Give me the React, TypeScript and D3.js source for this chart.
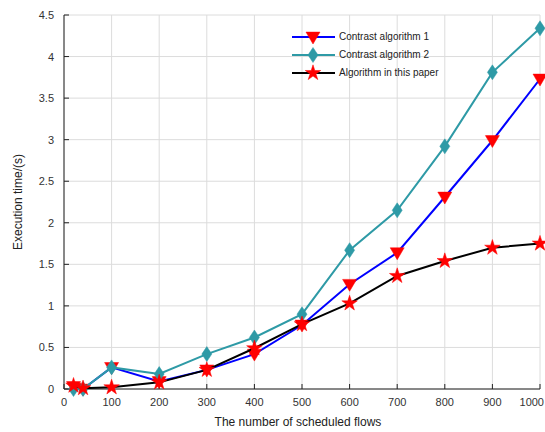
import React from "react";
import * as d3 from "d3";

const xValues = [20, 40, 100, 200, 300, 400, 500, 600, 700, 800, 900, 1000];
const algo1 = [0.03, 0.0, 0.26, 0.09, 0.23, 0.42, 0.77, 1.26, 1.64, 2.31, 2.99, 3.73];
const algo2 = [0.0, 0.0, 0.26, 0.18, 0.42, 0.62, 0.9, 1.67, 2.15, 2.92, 3.81, 4.34];
const ours = [0.04, 0.01, 0.02, 0.08, 0.23, 0.49, 0.78, 1.03, 1.36, 1.54, 1.7, 1.75];
const xTicks = [0, 100, 200, 300, 400, 500, 600, 700, 800, 900, 1000];
const yTicks = [0, 0.5, 1, 1.5, 2, 2.5, 3, 3.5, 4, 4.5];
const seriesNames = ["Contrast algorithm 1", "Contrast algorithm 2", "Algorithm in this paper"];

const W = 545, H = 432;
const left = 64, right = 540, top = 15, bottom = 389;
const FONT = "'Liberation Sans', Arial, sans-serif";

function Marker({ kind, x, y }: { kind: string; x: number; y: number }) {
  if (kind === "tri") {
    const s = 7;
    return <path d={`M${x - s},${y - s * 0.7}L${x + s},${y - s * 0.7}L${x},${y + s * 1.0}Z`} fill="#ff0000" stroke="#ff0000" strokeWidth={0.5} />;
  }
  if (kind === "dia") {
    return <path d={`M${x},${y - 7.5}L${x + 5},${y}L${x},${y + 7.5}L${x - 5},${y}Z`} fill="#2e9aa6" stroke="#2e9aa6" strokeWidth={0.5} />;
  }
  const star = d3.symbol().type(d3.symbolStar).size(75)();
  return <path d={star || ""} transform={`translate(${x},${y})`} fill="#ff0000" stroke="#ff0000" strokeWidth={0.5} />;
}

export default function App() {
  const x = d3.scaleLinear().domain([0, 1000]).range([left, right]);
  const y = d3.scaleLinear().domain([0, 4.5]).range([bottom, top]);
  const line = d3.line<number>().x((_, i) => x(xValues[i])).y((d) => y(d));
  const series = [
    { name: seriesNames[0], data: algo1, color: "#0000ff", kind: "tri" },
    { name: seriesNames[1], data: algo2, color: "#2e9aa6", kind: "dia" },
    { name: seriesNames[2], data: ours, color: "#000000", kind: "star" },
  ];
  return (
    <svg width={W} height={H} style={{ position: "absolute", left: 0, top: 0, background: "#fff" }} fontFamily={FONT}>
      <rect x={0} y={0} width={W} height={H} fill="#fff" />
      {xTicks.map((t) => (
        <line key={"gx" + t} x1={x(t)} x2={x(t)} y1={top} y2={bottom} stroke="#dcdcdc" strokeWidth={1} />
      ))}
      {yTicks.map((t) => (
        <line key={"gy" + t} x1={left} x2={right} y1={y(t)} y2={y(t)} stroke="#dcdcdc" strokeWidth={1} />
      ))}
      <line x1={left} x2={right} y1={bottom} y2={bottom} stroke="#222" strokeWidth={1} />
      <line x1={left} x2={left} y1={top} y2={bottom} stroke="#222" strokeWidth={1} />
      {xTicks.map((t) => (
        <g key={"tx" + t}>
          <line x1={x(t)} x2={x(t)} y1={bottom} y2={bottom - 5} stroke="#222" />
          <text x={t === 1000 ? W - 1 : x(t)} y={bottom + 17} textAnchor={t === 1000 ? "end" : "middle"} fontSize={11} fill="#333">{t}</text>
        </g>
      ))}
      {yTicks.map((t) => (
        <g key={"ty" + t}>
          <line x1={left} x2={left + 5} y1={y(t)} y2={y(t)} stroke="#222" />
          <text x={left - 10} y={y(t) + 4} textAnchor="end" fontSize={11} fill="#333">{t}</text>
        </g>
      ))}
      <text x={(left + right) / 2 - 4} y={426} textAnchor="middle" fontSize={12} fill="#222">The number of scheduled flows</text>
      <text transform={`translate(22,${(top + bottom) / 2}) rotate(-90)`} textAnchor="middle" fontSize={12} fill="#222">Execution time/(s)</text>
      {series.map((s) => (
        <g key={s.name}>
          <path d={line(s.data) || ""} fill="none" stroke={s.color} strokeWidth={2} />
          {s.data.map((v, i) => (
            <Marker key={i} kind={s.kind} x={x(xValues[i])} y={y(v)} />
          ))}
        </g>
      ))}
      {series.map((s, i) => {
        const ly = 37 + i * 18;
        return (
          <g key={"lg" + s.name}>
            <line x1={292} x2={335} y1={ly} y2={ly} stroke={s.color} strokeWidth={2} />
            <Marker kind={s.kind} x={313} y={ly} />
            <text x={339} y={ly + 3} fontSize={10} fill="#222">{s.name}</text>
          </g>
        );
      })}
    </svg>
  );
}
